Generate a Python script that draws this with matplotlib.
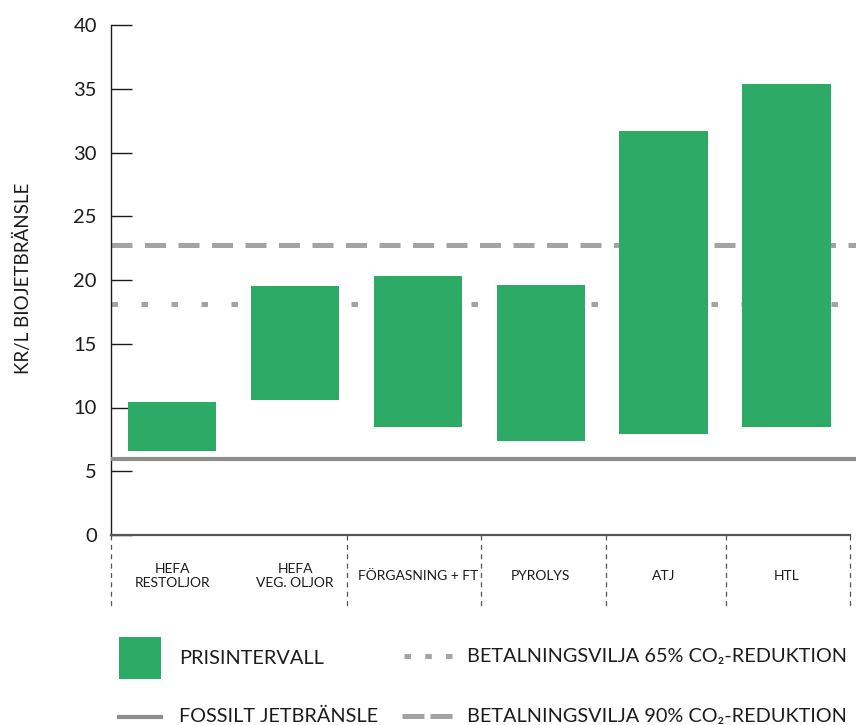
import matplotlib
matplotlib.use("Agg")
import matplotlib.pyplot as plt
from matplotlib.patches import Rectangle

plt.rcParams['font.family'] = ['Lato', 'DejaVu Sans']

# price ranges per production route, kr per litre bio jet fuel
routes = ['HEFA\nRESTOLJOR', 'HEFA\nVEG. OLJOR', 'FÖRGASNING + FT',
          'PYROLYS', 'ATJ', 'HTL']
price_low = [6.6, 10.6, 8.5, 7.4, 7.9, 8.5]
price_high = [10.4, 19.5, 20.3, 19.6, 31.7, 35.4]

fossil_price = 6.0
wtp_65 = 18.15
wtp_90 = 22.75

# column boundaries below the x axis (HEFA routes share one cell)
cell_edges = [-0.5, 1.42, 2.51, 3.53, 4.51, 5.52]

GREEN = '#2eaa67'
GREY = '#8e8e8e'
LIGHT = '#a3a3a3'
INK = '#1b1b1b'

W, H = 856, 725
fig = plt.figure(figsize=(W / 100, H / 100), dpi=100)
ax = fig.add_axes([110.7 / W, 190 / H, (W - 110.7) / W, 510 / H])

x = list(range(len(routes)))
heights = [hi - lo for lo, hi in zip(price_low, price_high)]

# willingness-to-pay levels sit behind the bars
ax.axhline(wtp_90, color=LIGHT, lw=3.6, dashes=(4.2, 2.5), zorder=1)
ax.axhline(wtp_65, color=LIGHT, lw=3.6, dashes=(1.3, 4.7), zorder=1)
ax.bar(x, heights, bottom=price_low, width=0.72, color=GREEN, zorder=2)
ax.axhline(fossil_price, color=GREY, lw=3.0, zorder=3)

ax.set_xlim(-0.5, 5.565)
ax.set_ylim(0, 40)
ax.set_yticks(range(0, 41, 5))
ax.set_xticks([])
ax.tick_params(axis='y', direction='in', length=15, width=1.0,
               color=INK, labelsize=14.5, labelcolor=INK, pad=10)

for side in ('top', 'right'):
    ax.spines[side].set_visible(False)
ax.spines['left'].set_color(INK)
ax.spines['left'].set_linewidth(1.0)
ax.spines['bottom'].set_color('#555555')
ax.spines['bottom'].set_linewidth(1.6)
ax.spines['bottom'].set_bounds(-0.5, cell_edges[-1])

# category cells under the axis
for xe in cell_edges:
    ax.plot([xe, xe], [0, -5.7], color='#555555', lw=0.9,
            dashes=(4, 3.5), clip_on=False)
for xi, name in zip(x, routes):
    ax.text(xi, -3.2, name, ha='center', va='center', fontsize=10,
            color=INK, linespacing=1.25, clip_on=False)

fig.text(23 / W, 1 - 278.5 / H, 'KR/L BIOJETBRÄNSLE', rotation=90,
         ha='center', va='center', fontsize=13.5, color=INK)

# legend drawn on a full-figure overlay in pixel units
leg = fig.add_axes([0, 0, 1, 1])
leg.set_xlim(0, W)
leg.set_ylim(H, 0)
leg.axis('off')
leg.add_patch(Rectangle((119.5, 636.5), 42, 42.5, color=GREEN, lw=0))
leg.plot([119.5, 161], [716.5, 716.5], color=GREY, lw=3.0)
leg.plot([404, 452], [655.5, 655.5], color=LIGHT, lw=3.6,
         dashes=(1.3, 2.85))
leg.plot([402, 452], [716, 716], color=LIGHT, lw=3.6, dashes=(4.4, 1.2))

legend_font = dict(fontsize=14.3, color=INK, va='center', ha='left')
leg.text(179, 658, 'PRISINTERVALL', **legend_font)
leg.text(179, 716, 'FOSSILT JETBRÄNSLE', **legend_font)
leg.text(467, 656, 'BETALNINGSVILJA 65% CO₂-REDUKTION', **legend_font)
leg.text(467, 716, 'BETALNINGSVILJA 90% CO₂-REDUKTION', **legend_font)

fig.savefig('out.png', dpi=100)
